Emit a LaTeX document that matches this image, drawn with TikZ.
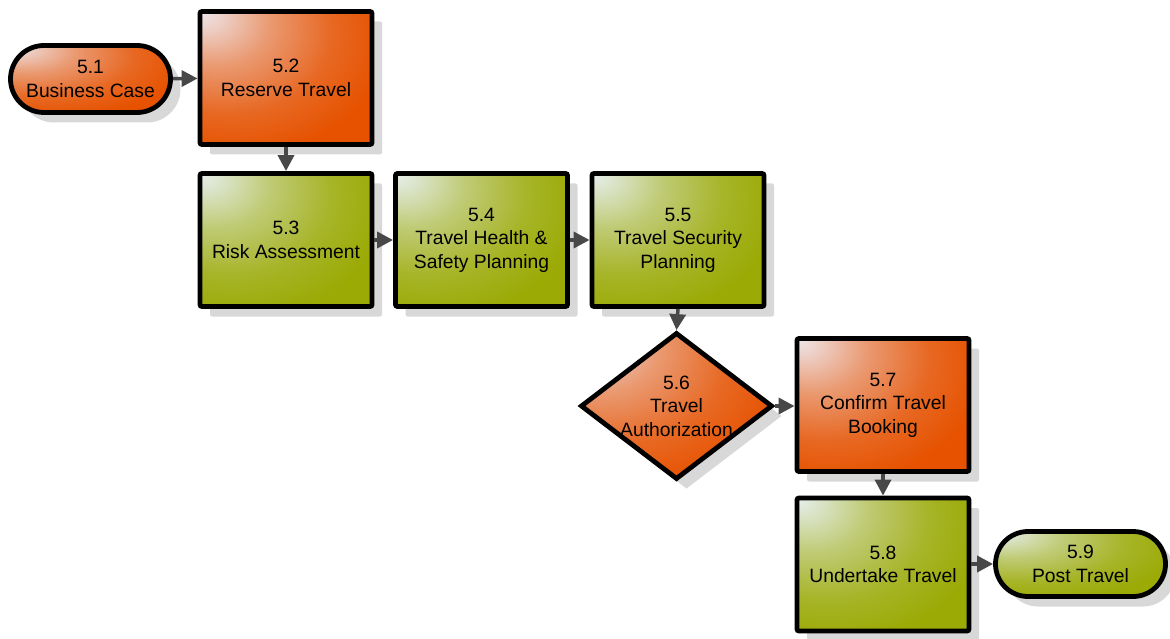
\documentclass[tikz,border=0pt]{standalone}
\usepackage{fontspec}
\setmainfont{Liberation Sans}
\usetikzlibrary{shapes.geometric,shapes.misc,shadows,arrows.meta}
\definecolor{orM}{RGB}{230,82,0}
\definecolor{orL}{RGB}{238,230,234}
\definecolor{grM}{RGB}{155,170,5}
\definecolor{grL}{RGB}{230,238,236}
\definecolor{arr}{RGB}{72,72,72}
\definecolor{shd}{RGB}{216,216,216}
\pgfdeclareradialshading{orshade}{\pgfpoint{-25bp}{25bp}}{color(0bp)=(orL); color(5bp)=(orL!85!orM); color(16bp)=(orL!48!orM); color(30bp)=(orL!15!orM); color(42bp)=(orM); color(90bp)=(orM)}
\pgfdeclareradialshading{grshade}{\pgfpoint{-25bp}{25bp}}{color(0bp)=(grL); color(5bp)=(grL!85!grM); color(16bp)=(grL!48!grM); color(30bp)=(grL!15!grM); color(42bp)=(grM); color(90bp)=(grM)}
\tikzset{
  base/.style={draw=black, line width=4.8pt, font=\fontsize{19.3}{23.5}\selectfont, align=center, inner sep=0pt,
    drop shadow={shadow xshift=10pt, shadow yshift=-10pt, fill=shd, opacity=1}},
  box/.style={base, rectangle, rounded corners=2pt, minimum width=172pt, minimum height=133pt},
  term/.style={base, rounded rectangle},
  dia/.style={base, diamond, minimum width=192pt, minimum height=147pt},
  lbl/.style={font=\fontsize{19.3}{23.5}\selectfont, align=center, inner sep=0pt},
  orng/.style={shade, shading=orshade},
  grn/.style={shade, shading=grshade},
  conn/.style={draw=arr, line width=3.5pt, -{Triangle[length=16pt,width=16pt]}}
}
\begin{document}
\begin{tikzpicture}[x=1pt,y=-1pt]
\useasboundingbox (0,0) rectangle (1170,639);
\node[term, orng, minimum width=160pt, minimum height=67pt] (n1) at (90.5,79) {5.1\\Business Case};
\node[box, orng] (n2) at (286,78) {5.2\\Reserve Travel};
\node[box, grn] (n3) at (286,240) {5.3\\Risk Assessment};
\node[box, grn] (n4) at (481.5,240) {5.4\\Travel Health \&\\Safety Planning};
\node[box, grn] (n5) at (678,240) {5.5\\Travel Security\\Planning};
\node[dia, orng] (n6) at (676.5,406) {};
\node[lbl] (n6t) at (n6.center) {5.6\\Travel\\Authorization};
\node[box, orng] (n7) at (883,405) {5.7\\Confirm Travel\\Booking};
\node[box, grn] (n8) at (883,564.5) {5.8\\Undertake Travel};
\node[term, grn, minimum width=170pt, minimum height=65pt] (n9) at (1080.5,564) {5.9\\Post Travel};
\draw[conn] (n1) -- (n2);
\draw[conn] (n2) -- (n3);
\draw[conn] (n3) -- (n4);
\draw[conn] (n4) -- (n5);
\draw[conn] (n5.south) -- (n6.north);
\draw[conn] (n6.east) -- (n7.west |- n6.east);
\draw[conn] (n7) -- (n8);
\draw[conn] (n8.east |- n9.west) -- (n9.west);
\end{tikzpicture}
\end{document}
